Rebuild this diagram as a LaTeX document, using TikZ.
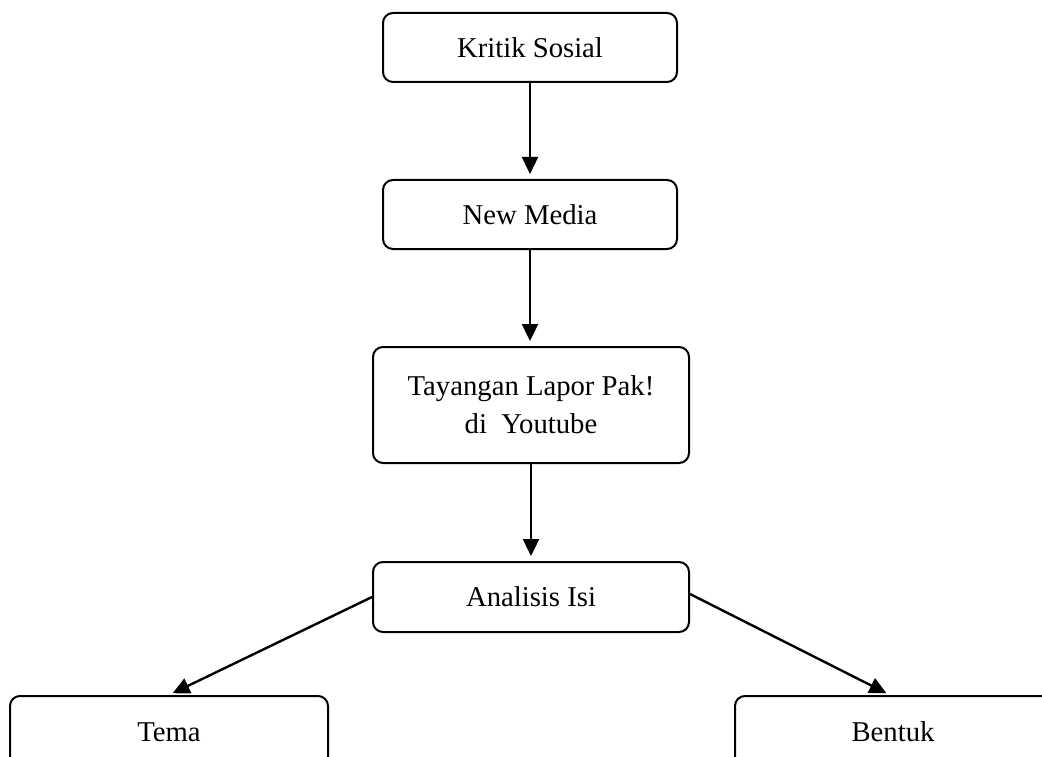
\documentclass[tikz,border=0pt]{standalone}
\usepackage{fontspec}
\setmainfont{Liberation Serif}
\usetikzlibrary{arrows.meta}
\begin{document}
\begin{tikzpicture}[x=1pt,y=-1pt,
  box/.style={draw,line width=2pt,rounded corners=10pt,inner sep=0pt,align=center,
    font=\fontsize{28.7}{38}\selectfont},
  cutbox/.style={box,anchor=north,text height=45pt,text depth=90pt},
  link/.style={line width=2.4pt,-{Triangle[length=17pt,width=16pt]},shorten >=5pt}]
\clip (0,0) rectangle (1042,757);
\fill[white] (0,0) rectangle (1042,757);
\node[box,minimum width=294pt,minimum height=69pt] (kritik) at (530,47.5) {Kritik Sosial};
\node[box,minimum width=294pt,minimum height=69pt] (media) at (530,214.5) {New Media};
\node[box,minimum width=316pt,minimum height=116pt] (tayang) at (531,405) {Tayangan Lapor Pak!\\di\ \ Youtube};
\node[box,minimum width=316pt,minimum height=70pt] (analisis) at (531,597) {Analisis Isi};
\node[cutbox,minimum width=318pt] (tema) at (169,695) {Tema};
\node[cutbox,minimum width=316pt] (bentuk) at (893,695) {Bentuk};
\draw[link] (kritik) -- (media);
\draw[link] (media.south) -- (media.south |- tayang.north);
\draw[link] (tayang) -- (analisis);
\draw[link,shorten >=4pt] (analisis.west) -- (tema.north);
\draw[link,shorten >=4pt] ([yshift=3pt]analisis.east) -- ([xshift=-3pt]bentuk.north);
\end{tikzpicture}
\end{document}
